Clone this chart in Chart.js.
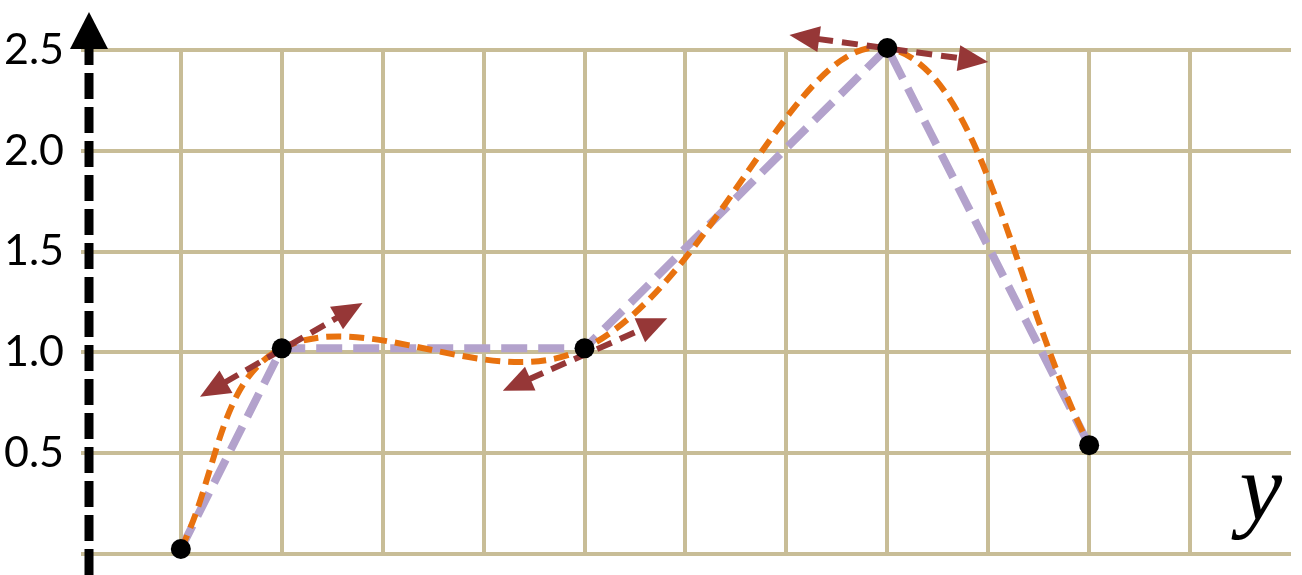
<!DOCTYPE html>
<html>
<head>
<meta charset="utf-8">
<script src="https://cdn.jsdelivr.net/npm/chart.js@4/dist/chart.umd.min.js"></script>
<style>
  html, body { margin: 0; padding: 0; background: #fff; }
  #wrap { width: 1302px; height: 575px; }
</style>
</head>
<body>
<div id="wrap"><canvas id="grafico" width="1302" height="575"></canvas></div>
<script>
// puntos del trazado
const puntosX = [1, 2, 5, 8, 10];
const puntosY = [0.025, 1.02, 1.02, 2.51, 0.54];

// flechas tangentes: inicio y fin de cada una
const flechaX1 = [1.19, 4.19, 7.03];
const flechaY1 = [0.78, 0.81, 2.574];
const flechaX2 = [2.80, 5.82, 9.0];
const flechaY2 = [1.245, 1.17, 2.44];

const marcasX = [1, 2, 3, 4, 5, 6, 7, 8, 9, 10, 11];
const marcasY = [0, 0.5, 1.0, 1.5, 2.0, 2.5];

const colorRejilla = "#c8bd97";

const puntos = puntosX.map((x, i) => ({ x: x, y: puntosY[i] }));

function cabeza(ctx, x0, y0, x1, y1, largo, ancho) {
    // triangulo con punta en (x1, y1)
    const ang = Math.atan2(y1 - y0, x1 - x0);
    ctx.beginPath();
    ctx.moveTo(x1, y1);
    ctx.lineTo(x1 - largo * Math.cos(ang) + ancho * Math.sin(ang),
               y1 - largo * Math.sin(ang) - ancho * Math.cos(ang));
    ctx.lineTo(x1 - largo * Math.cos(ang) - ancho * Math.sin(ang),
               y1 - largo * Math.sin(ang) + ancho * Math.cos(ang));
    ctx.closePath();
    ctx.fill();
}

const pluginFlechas = {
    id: "flechas",
    afterDatasetDraw(chart, args) {
        if (args.index !== 1) return;
        const ctx = chart.ctx;
        const sx = chart.scales.x, sy = chart.scales.y;
        const L = 30;
        ctx.save();
        ctx.strokeStyle = "#963737";
        ctx.fillStyle = "#963737";
        ctx.lineWidth = 6;
        ctx.setLineDash([16, 9]);
        flechaX1.forEach((v, i) => {
            const ax = sx.getPixelForValue(v), ay = sy.getPixelForValue(flechaY1[i]);
            const bx = sx.getPixelForValue(flechaX2[i]), by = sy.getPixelForValue(flechaY2[i]);
            const d = Math.hypot(bx - ax, by - ay);
            const ux = (bx - ax) / d, uy = (by - ay) / d;
            ctx.beginPath();
            ctx.moveTo(ax + ux * (L - 2), ay + uy * (L - 2));
            ctx.lineTo(bx - ux * (L - 2), by - uy * (L - 2));
            ctx.stroke();
            cabeza(ctx, bx, by, ax, ay, L, 13);
            cabeza(ctx, ax, ay, bx, by, L, 13);
        });
        ctx.restore();
    },
    afterDatasetsDraw(chart) {
        const ctx = chart.ctx;
        const area = chart.chartArea;
        const x = area.left;
        const punta = area.top - 38;
        ctx.save();
        // eje vertical con flecha
        ctx.strokeStyle = "#000";
        ctx.fillStyle = "#000";
        ctx.lineWidth = 9;
        ctx.setLineDash([26, 8]);
        ctx.beginPath();
        ctx.moveTo(x, chart.height);
        ctx.lineTo(x, punta + 36);
        ctx.stroke();
        ctx.setLineDash([]);
        cabeza(ctx, x, chart.height, x, punta, 37, 19);

        // etiqueta del eje
        ctx.font = "italic 96px 'Liberation Serif'";
        ctx.textAlign = "center";
        ctx.textBaseline = "alphabetic";
        ctx.fillText("y", chart.scales.x.getPixelForValue(11.7), chart.scales.y.getPixelForValue(0.17));
        ctx.restore();
    }
};

new Chart(document.getElementById("grafico"), {
    type: "line",
    data: {
        datasets: [
            {
                label: "puntos",
                data: puntos,
                showLine: false,
                pointRadius: 10,
                pointBackgroundColor: "#000",
                pointBorderWidth: 0,
                order: 0,
                clip: false
            },
            {
                label: "spline",
                data: puntos,
                borderColor: "#e8720f",
                borderWidth: 6,
                borderDash: [15, 8],
                tension: 0.37,
                pointRadius: 0,
                fill: false,
                order: 1,
                clip: false
            },
            {
                label: "lineal",
                data: puntos,
                borderColor: "#b3a2cc",
                borderWidth: 8,
                borderDash: [26, 11],
                tension: 0,
                pointRadius: 0,
                fill: false,
                order: 2,
                clip: false
            }
        ]
    },
    options: {
        responsive: false,
        animation: false,
        devicePixelRatio: 1,
        layout: { padding: { top: 50, right: 11, bottom: 21, left: 0 } },
        elements: { line: { capBezierPoints: false } },
        plugins: {
            legend: { display: false },
            tooltip: { enabled: false }
        },
        scales: {
            x: {
                type: "linear",
                min: 0.09,
                max: 12,
                afterBuildTicks: s => { s.ticks = marcasX.map(v => ({ value: v })); },
                afterFit: s => { s.height = 0; s.paddingLeft = 0; s.paddingRight = 0; },
                ticks: { display: false },
                border: { display: false },
                grid: { color: colorRejilla, lineWidth: 4, drawTicks: false }
            },
            y: {
                type: "linear",
                min: 0,
                max: 2.5,
                afterBuildTicks: s => { s.ticks = marcasY.map(v => ({ value: v })); },
                afterFit: s => { s.width = 89; s.paddingTop = 0; s.paddingBottom = 0; },
                ticks: {
                    padding: 17,
                    color: "#000",
                    font: { family: "Lato", size: 43 },
                    callback: v => v === 0 ? "" : v.toFixed(1)
                },
                border: { display: false },
                grid: { color: colorRejilla, lineWidth: 4, tickLength: 8, drawTicks: true }
            }
        }
    },
    plugins: [pluginFlechas]
});
</script>
</body>
</html>
